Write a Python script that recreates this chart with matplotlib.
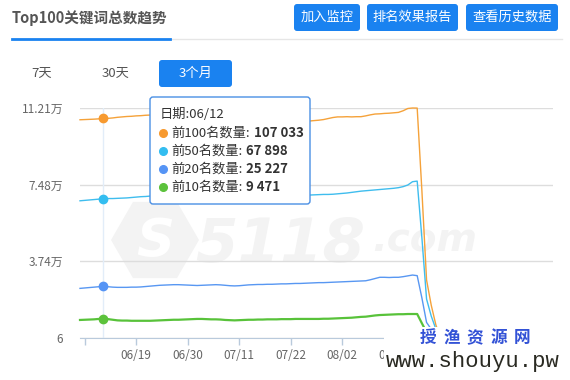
import numpy as np
import pandas as pd
import matplotlib
matplotlib.use('Agg')
import matplotlib.pyplot as plt
from matplotlib.patches import FancyBboxPatch, Rectangle, RegularPolygon

plt.rcParams['font.family'] = ['Noto Sans CJK SC', 'DejaVu Sans']

# ---- data (daily, from 06/07) ----
start_day = '2019-06-07'
hover_idx = 5  # 06/12
n_labels = 7   # labelled ticks visible before the site watermark

top100 = [106400, 106500, 106600, 106700, 106850, 107033, 107100, 107300, 107600, 107800,
          108000, 108100, 108300, 108400, 108600, 108700, 108800, 108900, 108900, 108900,
          108900, 108800, 108700, 108600, 108500, 108400, 108200, 108100, 107900, 107800,
          107700, 107600, 107400, 107300, 107200, 107100, 106900, 106800, 106700, 106600,
          106500, 106400, 106300, 106200, 106100, 106000, 105900, 105900, 105800, 105800,
          106000, 106200, 106500, 107000, 107500, 107800, 107800, 107900, 107800, 107900,
          107900, 108300, 108800, 109200, 109300, 109500, 109600, 109800, 110000, 110800,
          111900, 112140, 112100, 72000, 28300, 16000, 6300,
          120, 95, 88, 102, 76, 90, 85, 110, 97, 80, 92, 86, 104, 99, 83, 91, 88, 95, 78,
          101, 93, 87, 96, 84, 90]
top50 = [66900, 67100, 67300, 67500, 67700, 67898, 68000, 68000, 68100, 68200,
         68300, 68500, 68700, 68900, 69000, 69200, 69300, 69300, 69400, 69400,
         69400, 69500, 69500, 69500, 69600, 69600, 69600, 69700, 69700, 69700,
         69700, 69800, 69800, 69800, 69900, 69900, 69900, 70000, 70000, 70000,
         70000, 70000, 70100, 70100, 70100, 70100, 70000, 69900, 69800, 69700,
         69800, 69900, 70000, 70000, 70100, 70300, 70500, 70700, 71000, 71300,
         71600, 71800, 72000, 72200, 72400, 72600, 72800, 73000, 73300, 73800,
         74600, 76200, 76500, 49000, 19000, 10700, 4300,
         60, 48, 52, 45, 55, 50, 47, 58, 51, 44, 49, 53, 46, 57, 50, 48, 52, 45, 54,
         49, 51, 47, 55, 50, 46]
top20 = [24200, 24400, 24600, 24800, 25000, 25227, 25000, 24800, 24700, 24700,
         24700, 24800, 24800, 24900, 25100, 25300, 25500, 25700, 25800, 25900,
         26000, 26000, 25900, 25800, 25700, 25600, 25700, 25800, 25900, 26000,
         25900, 25700, 25500, 25400, 25500, 25700, 25900, 26000, 26100, 26100,
         26200, 26200, 26300, 26400, 26400, 26500, 26600, 26600, 26700, 26800,
         26900, 27000, 27000, 27100, 27200, 27300, 27400, 27500, 27600, 27700,
         27800, 27900, 28400, 29000, 29600, 29600, 29500, 29600, 29600, 29900,
         30300, 30700, 30400, 19600, 7600, 4300, 1700,
         30, 24, 27, 22, 28, 25, 23, 29, 26, 21, 24, 27, 23, 28, 25, 24, 26, 22, 27,
         24, 25, 23, 28, 25, 23]
top10 = [8800, 8900, 9000, 9100, 9300, 9471, 9200, 8900, 8600, 8500,
         8500, 8400, 8400, 8400, 8400, 8400, 8500, 8600, 8700, 8800,
         8900, 8900, 9000, 9100, 9200, 9300, 9300, 9200, 9100, 9100,
         9000, 8800, 8700, 8600, 8700, 8800, 8900, 8900, 9000, 9000,
         9100, 9100, 9100, 9200, 9200, 9200, 9300, 9300, 9300, 9300,
         9300, 9300, 9400, 9400, 9500, 9600, 9700, 9800, 9900, 10100,
         10300, 10400, 10700, 11000, 11200, 11300, 11400, 11500, 11600, 11600,
         11700, 11700, 11700, 7200, 2800, 1600, 600,
         12, 8, 10, 6, 9, 11, 7, 10, 8, 9, 12, 7, 10, 8, 11, 9, 6, 10, 8, 9, 11, 7,
         10, 9, 8]

series_names = ['前100名数量', '前50名数量', '前20名数量', '前10名数量']
series_vals = [top100, top50, top20, top10]
line_colors = ['#f5a23a', '#3fbdee', '#5897f2', '#58c23a']
dot_colors = ['#f79a30', '#33bdf0', '#5594f5', '#5cc23c']
line_widths = [1.0, 1.0, 1.0, 1.6]

dates = pd.date_range(start_day, periods=len(top100), freq='D')
xs = np.arange(len(dates))
tick_idx = np.arange(1, len(dates), 11)
tick_labels = [dates[i].strftime('%m/%d') if 0 < k < n_labels else ''
               for k, i in enumerate(tick_idx)]

blue = '#1a82f0'
wm_gray = '#f3f3f3'

fig = plt.figure(figsize=(5.7, 3.8), dpi=100)

# background watermark layer
ax_bg = fig.add_axes([0, 0, 1, 1], zorder=0)
ax_bg.set_xlim(0, 570)
ax_bg.set_ylim(380, 0)
ax_bg.axis('off')
ax_bg.add_patch(RegularPolygon((155, 240), 6, radius=44, orientation=np.pi / 6,
                               fc=wm_gray, ec='none'))
ax_bg.text(155, 242, 'S', color='white', fontsize=38, fontweight='bold', style='italic',
           ha='center', va='center', family='DejaVu Sans')
ax_bg.text(195, 262, '5118', color=wm_gray, fontsize=44, fontweight='bold',
           style='italic', family='DejaVu Sans', va='baseline')
ax_bg.text(372, 252, '.com', color=wm_gray, fontsize=28, fontweight='bold',
           style='italic', family='DejaVu Sans', va='baseline')

# main chart
ax = fig.add_axes([80 / 570, 42 / 380, 473 / 570, 230 / 380], zorder=1)
ax.patch.set_alpha(0)
allv = np.concatenate([np.array(v) for v in series_vals])
lo, hi = allv.min(), allv.max()
ax.set_xlim(xs[0], xs[-1])
ax.set_ylim(lo, hi)
yt = np.linspace(lo, hi, 4)
ax.set_yticks(yt)
ax.set_yticklabels([str(int(v)) if v < 1e4 else f'{v / 1e4:.2f}万' for v in yt])
ax.set_xticks(tick_idx)
ax.set_xticklabels(tick_labels)
ax.grid(axis='y', color='#dddddd', lw=1)
ax.set_axisbelow(True)
for s in ['left', 'right', 'top']:
    ax.spines[s].set_visible(False)
ax.spines['bottom'].set_color('#b9cadc')
ax.tick_params(axis='x', colors='#b9cadc', length=5, width=1, labelcolor='#666666',
               labelsize=8.5, pad=3)
ax.tick_params(axis='y', length=0, labelcolor='#666666', labelsize=8.5, pad=12)

ax.axvline(xs[hover_idx], color='#e2edf9', lw=1, zorder=1)
for vals, c, dc, lw in zip(series_vals, line_colors, dot_colors, line_widths):
    ax.plot(xs, vals, color=c, lw=lw, zorder=2, clip_on=False)
    ax.plot(xs[hover_idx], vals[hover_idx], 'o', color=dc, ms=6, zorder=3)

# overlay: header, tooltip, watermark
ov = fig.add_axes([0, 0, 1, 1], zorder=3)
ov.set_xlim(0, 570)
ov.set_ylim(380, 0)
ov.axis('off')
ov.patch.set_alpha(0)

ov.text(12, 18, 'Top100关键词总数趋势', fontsize=10.5, fontweight='bold', color='#555555',
        va='center')
ov.plot([12, 562], [39, 39], color='#e6e6e6', lw=1)
ov.plot([12, 170], [38.5, 38.5], color=blue, lw=2)
for x0, x1, lab in [(294, 360, '加入监控'), (367, 458, '排名效果报告'), (466, 558, '查看历史数据')]:
    ov.add_patch(FancyBboxPatch((x0, 4), x1 - x0, 27, boxstyle='round,pad=0,rounding_size=3',
                                fc=blue, ec='none'))
    ov.text((x0 + x1) / 2, 17.5, lab, color='white', fontsize=9.5, ha='center', va='center')

ov.text(42, 73, '7天', color='#555555', fontsize=9.5, ha='center', va='center')
ov.text(116, 73, '30天', color='#555555', fontsize=9.5, ha='center', va='center')
ov.add_patch(FancyBboxPatch((159, 60), 73, 27, boxstyle='round,pad=0,rounding_size=3',
                            fc=blue, ec='none'))
ov.text(195.5, 73.5, '3个月', color='white', fontsize=9.5, ha='center', va='center')

# tooltip
ov.add_patch(FancyBboxPatch((150, 97), 160, 107, boxstyle='round,pad=0,rounding_size=3',
                            fc='white', ec='#4a8fe4', lw=1))
ov.text(160, 115, '日期:' + dates[hover_idx].strftime('%m/%d'), fontsize=9.5, color='#333333',
        va='center')
name_texts = []
for k, (nm, vals, dc) in enumerate(zip(series_names, series_vals, dot_colors)):
    y = 133 + 18 * k
    ov.plot(163, y, 'o', color=dc, ms=5.5)
    name_texts.append(ov.text(171, y, nm + ':', fontsize=9.5, color='#333333', va='center'))
fig.canvas.draw()
r = fig.canvas.get_renderer()
for t, vals in zip(name_texts, series_vals):
    bb = t.get_window_extent(r)
    x_end = ov.transData.inverted().transform((bb.x1, bb.y0))[0]
    ov.text(x_end + 4, t.get_position()[1], f'{vals[hover_idx]:,}'.replace(',', ' '),
            fontsize=9.5, fontweight='bold', color='#333333', va='center')

# site watermark
ov.add_patch(Rectangle((384, 327), 186, 53, fc='white', ec='none'))
for i, ch in enumerate('授渔资源网'):
    ov.text(428 + 23.5 * i, 338, ch, fontsize=12, fontweight='bold', color='#3352d6',
            ha='center', va='center')
ov.text(386, 367, 'www.shouyu.pw', fontsize=16, color='#2a2a22', ha='left',
        va='baseline', family='Liberation Mono')

fig.savefig('out.png', dpi=100)
